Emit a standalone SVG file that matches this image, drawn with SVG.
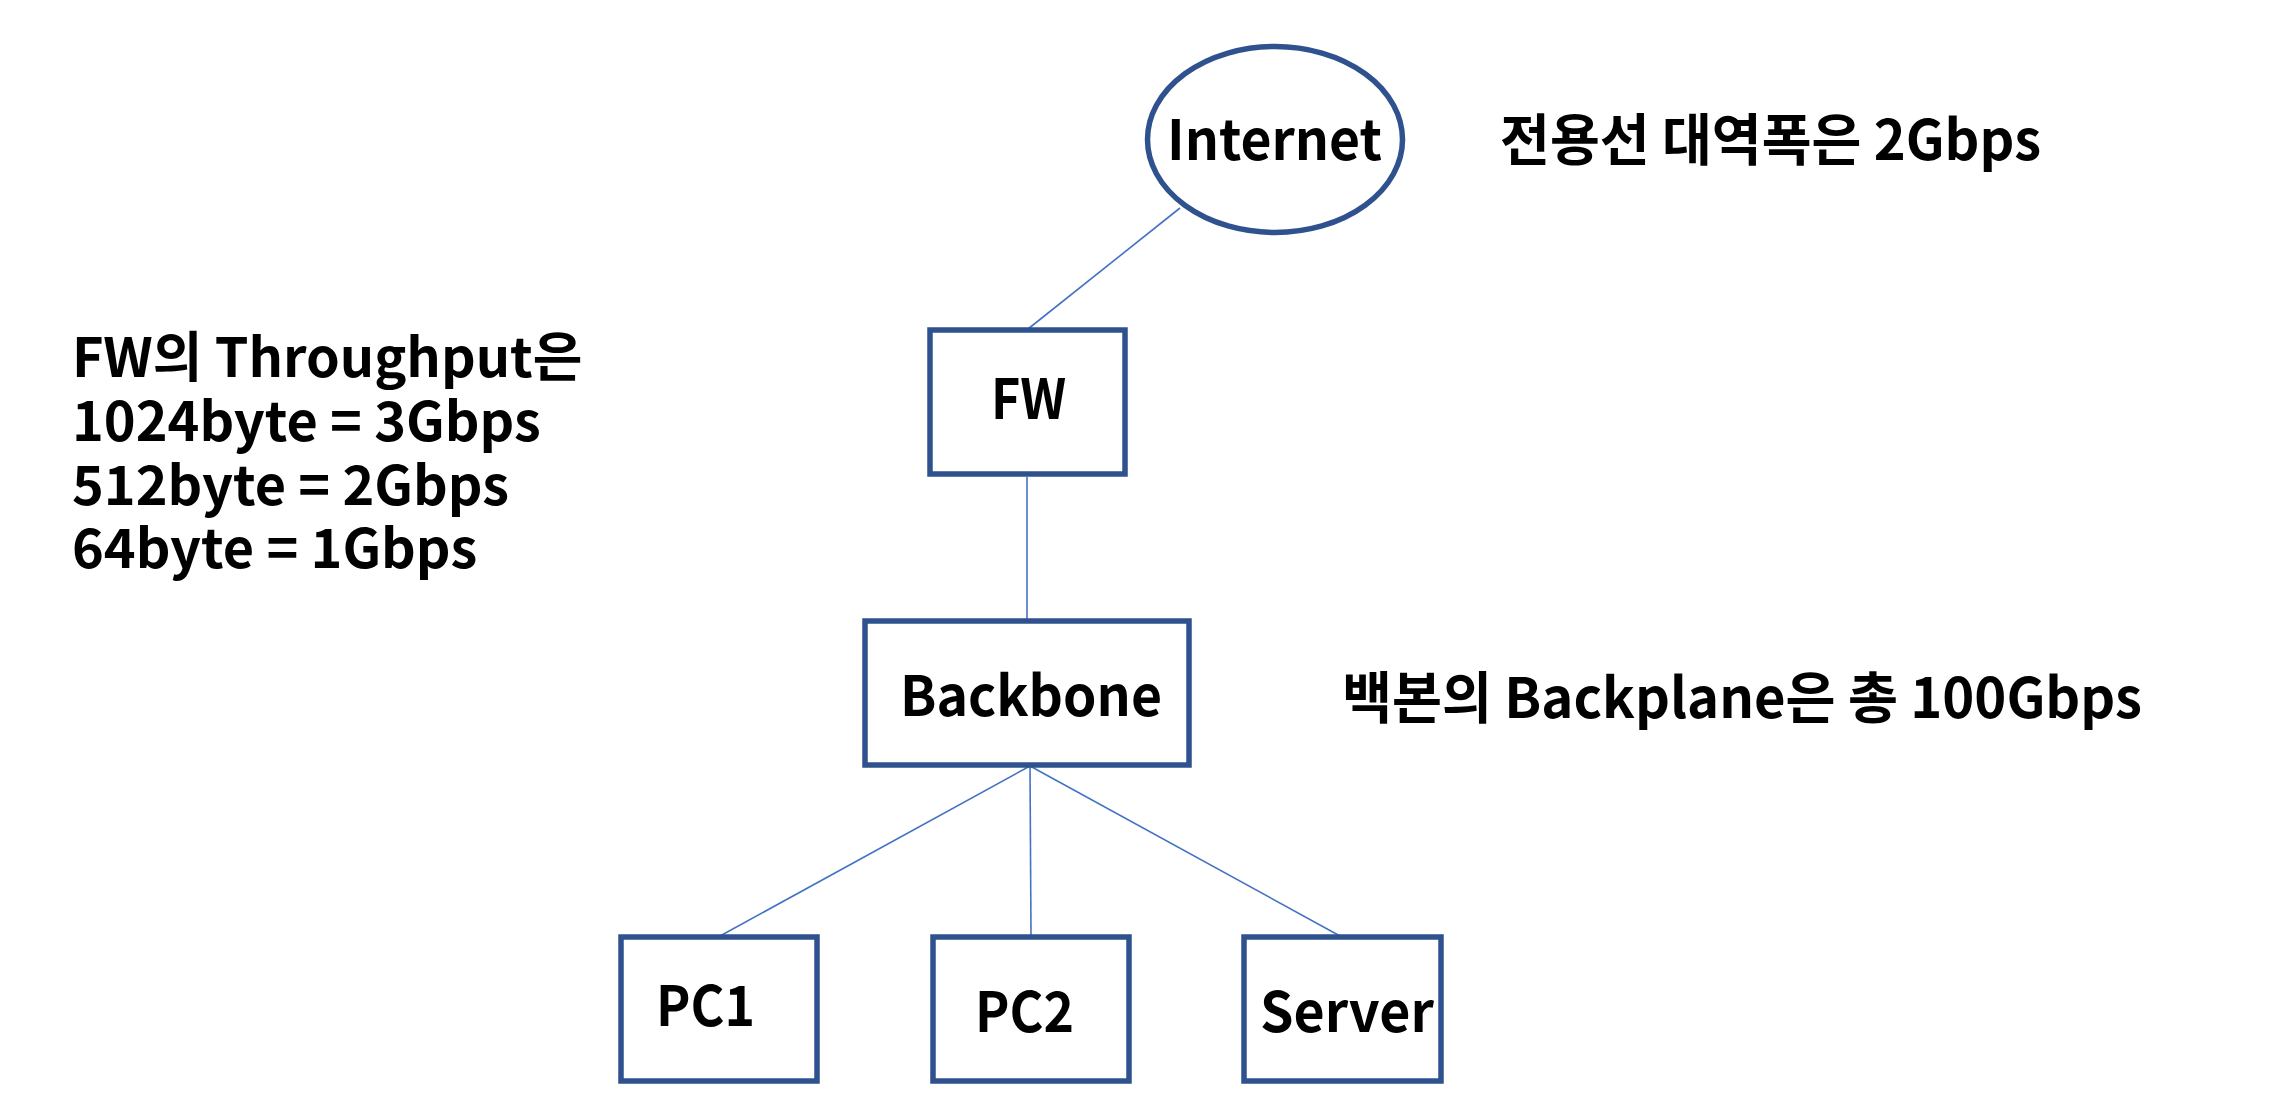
<svg xmlns="http://www.w3.org/2000/svg" width="2280" height="1102" viewBox="0 0 2280 1102">
<style>
.box{fill:#fff;stroke:#2F528F;stroke-width:5.5}
.conn{stroke:#4472C4;stroke-width:1.6;fill:none}
.t{font-family:"Noto Sans CJK KR","Noto Sans",sans-serif;font-weight:bold;font-size:56px;fill:#000}
.side{font-size:54px}
</style>
<rect width="2280" height="1102" fill="#fff"/>
<g id="connectors">
<line class="conn" x1="1180" y1="208" x2="1028" y2="329"/>
<line class="conn" x1="1027" y1="477" x2="1027" y2="620"/>
<line class="conn" x1="1030" y1="766" x2="720" y2="936"/>
<line class="conn" x1="1030" y1="766" x2="1031" y2="936"/>
<line class="conn" x1="1030" y1="766" x2="1340" y2="936"/>
</g>
<g id="internet">
<ellipse class="box" cx="1275" cy="139.5" rx="127.5" ry="93"/>
<text class="t" x="1167" y="160" textLength="215" lengthAdjust="spacingAndGlyphs">Internet</text>
</g>
<g id="fw">
<rect class="box" x="930" y="330" width="195" height="144"/>
<text class="t" x="991" y="419" textLength="75" lengthAdjust="spacingAndGlyphs">FW</text>
</g>
<g id="backbone">
<rect class="box" x="865" y="621" width="324" height="144"/>
<text class="t" x="900" y="716" textLength="262" lengthAdjust="spacingAndGlyphs">Backbone</text>
</g>
<g id="pc1">
<rect class="box" x="621" y="937" width="196" height="144"/>
<text class="t" x="656" y="1026" textLength="99" lengthAdjust="spacingAndGlyphs">PC1</text>
</g>
<g id="pc2">
<rect class="box" x="933" y="937" width="196" height="144"/>
<text class="t" x="975" y="1032" textLength="99" lengthAdjust="spacingAndGlyphs">PC2</text>
</g>
<g id="server">
<rect class="box" x="1244" y="937" width="197" height="144"/>
<text class="t" x="1260" y="1032" textLength="174" lengthAdjust="spacingAndGlyphs">Server</text>
</g>
<g id="notes">
<text class="t" x="1500" y="160" textLength="541" lengthAdjust="spacingAndGlyphs">전용선 대역폭은 2Gbps</text>
<text class="t" x="1342" y="718" textLength="800" lengthAdjust="spacingAndGlyphs">백본의 Backplane은 총 100Gbps</text>
<text class="t side" x="72" y="377"><tspan x="72" y="377">FW의 Throughput은</tspan><tspan x="72" y="441">1024byte = 3Gbps</tspan><tspan x="72" y="505">512byte = 2Gbps</tspan><tspan x="72" y="568">64byte = 1Gbps</tspan></text>
</g>
</svg>
